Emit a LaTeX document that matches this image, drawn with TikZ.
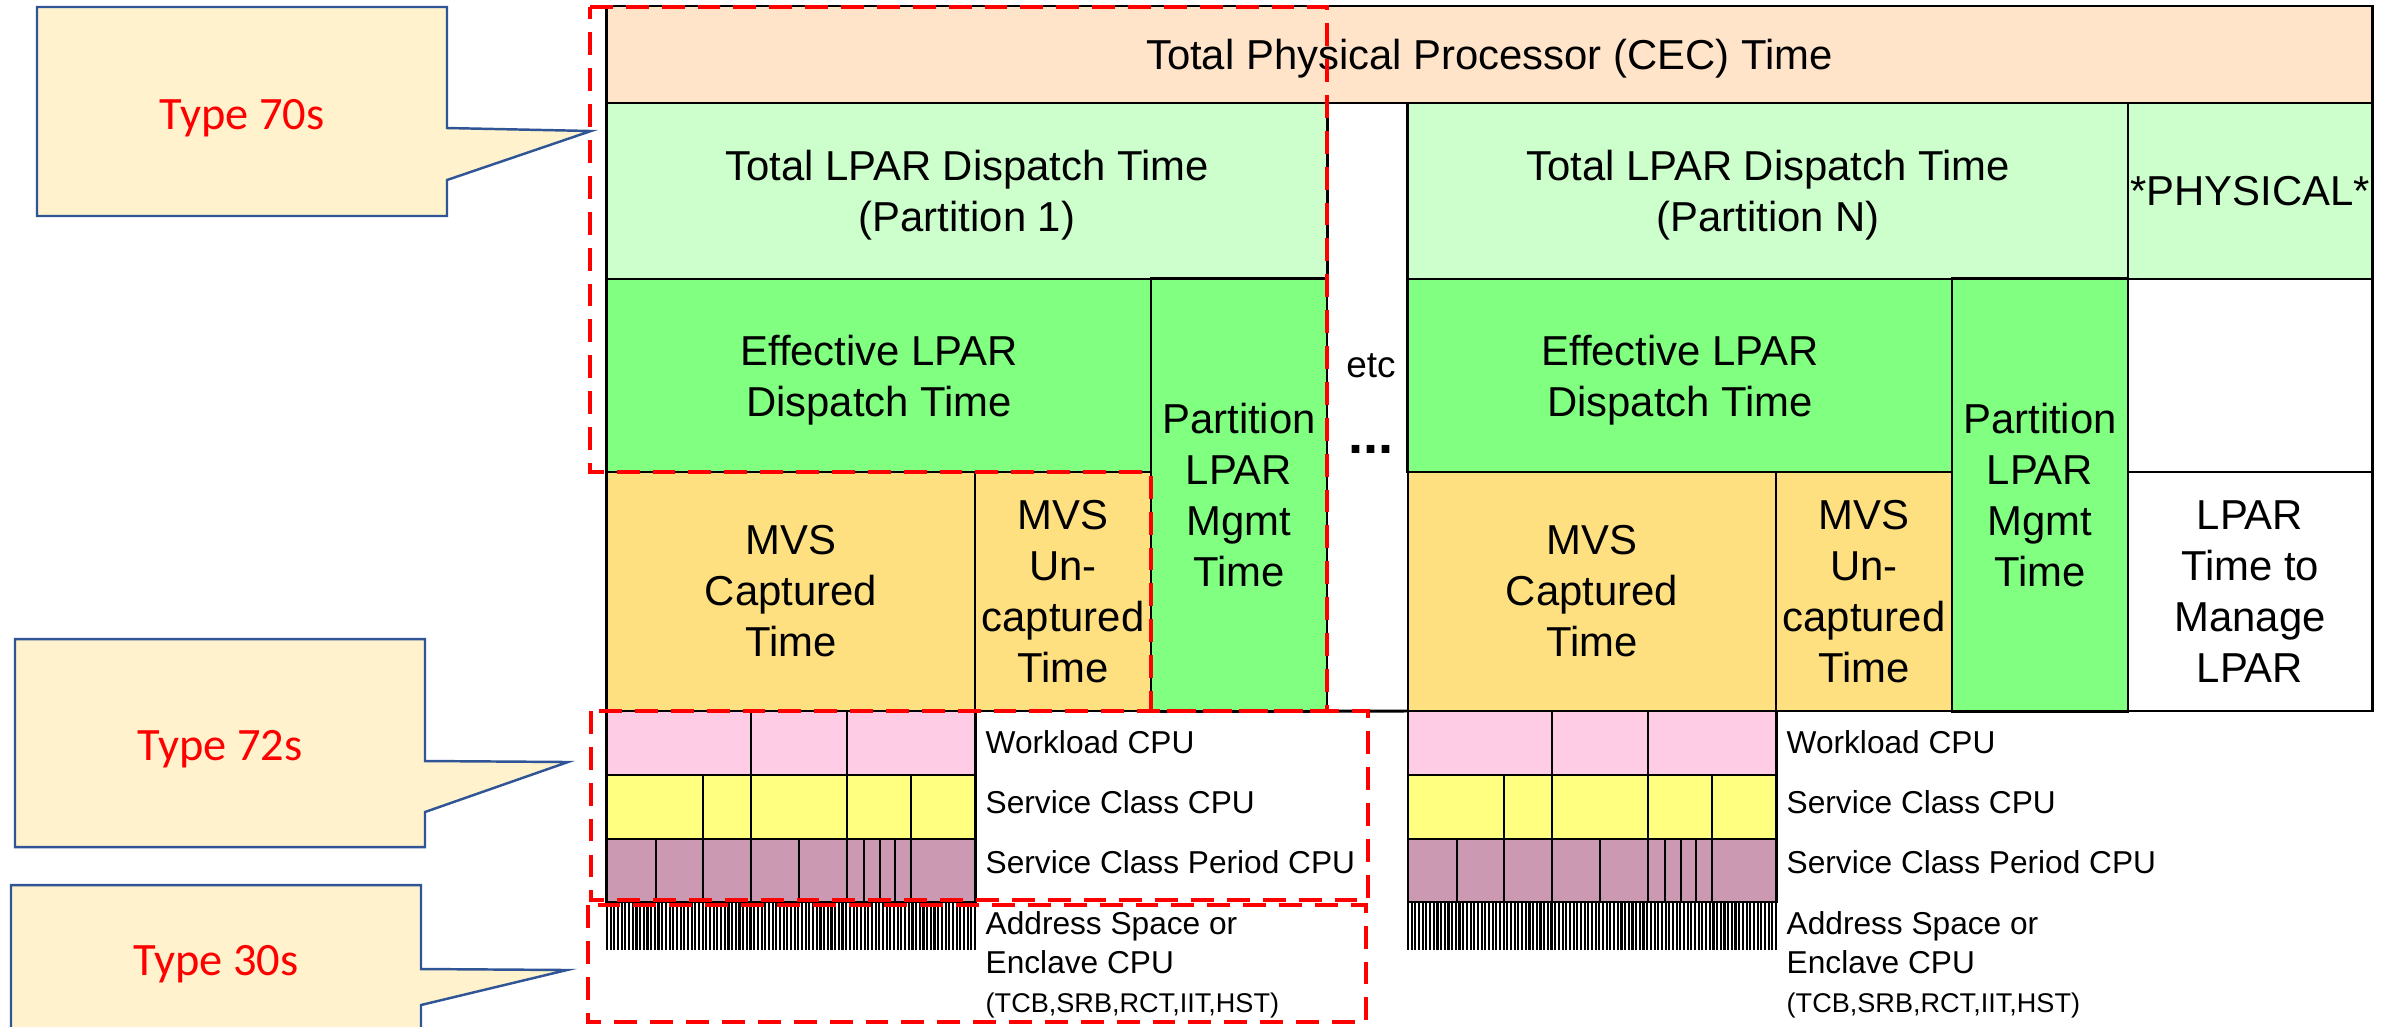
\documentclass[tikz,border=0pt]{standalone}
\usepackage{fontspec}
\setmainfont{Liberation Sans}
\newfontfamily\calibri{Carlito}
\definecolor{cecPeach}{HTML}{FFE4CA}
\definecolor{lparLight}{HTML}{CCFFCC}
\definecolor{effGreen}{HTML}{80FF80}
\definecolor{mvsGold}{HTML}{FFE080}
\definecolor{wlPink}{HTML}{FFCCE6}
\definecolor{scYellow}{HTML}{FFFF80}
\definecolor{scpMauve}{HTML}{CC99B3}
\definecolor{tagFill}{HTML}{FFF2CC}
\definecolor{tagBlue}{HTML}{2F5597}
\definecolor{grpRed}{HTML}{FF0000}

\begin{document}
\begin{tikzpicture}[x=0.01cm,y=-0.01cm,
  rule/.style={draw=black,line width=0.8pt},
  cell/.style={rule,inner sep=0pt,outer sep=0pt,align=center,
               font=\fontsize{11.9}{14.5}\selectfont},
  bar/.style={rule,inner sep=0pt,outer sep=0pt,minimum width=3.68cm},
  hatch/.style={draw=black,line width=0.6pt},
  lbl/.style={anchor=west,inner sep=0pt,font=\fontsize{9}{11}\selectfont},
  grp/.style={draw=grpRed,line width=1.2pt,dash pattern=on 6.5pt off 3.7pt},
  tag/.style={draw=tagBlue,line width=0.7pt,fill=tagFill},
  tagtxt/.style={text=grpRed,inner sep=0pt,font=\calibri\fontsize{13.2}{15}\selectfont}]

\useasboundingbox (0,0) rectangle (2381,1026);

% callouts
\draw[tag] (37,7) -- (447,7) -- (447,128) -- (591,131) -- (447,180) -- (447,216) -- (37,216) -- cycle;
\node[tagtxt] (t70) at (242,118) {Type 70s};
\draw[tag] (15,639) -- (425,639) -- (425,761) -- (568,762) -- (425,812) -- (425,847) -- (15,847) -- cycle;
\node[tagtxt] (t72) at (220,749) {Type 72s};
\draw[tag] (11,885) -- (421,885) -- (421,969) -- (567,970) -- (421,1005) -- (421,1040) -- (11,1040) -- cycle;
\node[tagtxt] (t30) at (216,964) {Type 30s};

% processor time
\node[cell,fill=cecPeach,minimum width=17.65cm,minimum height=0.97cm,text depth=-3.5pt] (cec) at (1489.5,54.5) {Total Physical Processor (CEC) Time};

% partition 1
\node[cell,fill=lparLight,minimum width=7.2cm,minimum height=1.76cm,text depth=-1pt] (tl1) at (967,191) {Total LPAR Dispatch Time\\(Partition 1)};
\node[cell,fill=effGreen,minimum width=5.44cm,minimum height=1.93cm,text depth=-0.6pt] (eff1) at (879,375.5) {Effective LPAR\\Dispatch Time};
\node[cell,fill=effGreen,minimum width=1.76cm,minimum height=4.32cm,text depth=-4pt] (mg1) at (1239,495) {Partition\\LPAR\\Mgmt\\Time};
\node[cell,fill=mvsGold,minimum width=3.68cm,minimum height=2.39cm] (cap1) at (791,591.5) {MVS\\Captured\\Time};
\node[cell,fill=mvsGold,minimum width=1.76cm,minimum height=2.39cm] (unc1) at (1063,591.5) {MVS\\Un-\\captured\\Time};

% partition N
\node[cell,fill=lparLight,minimum width=7.2cm,minimum height=1.76cm,text depth=-1pt] (tlN) at (1768,191) {Total LPAR Dispatch Time\\(Partition N)};
\node[cell,fill=effGreen,minimum width=5.44cm,minimum height=1.93cm,text depth=-0.6pt] (effN) at (1680,375.5) {Effective LPAR\\Dispatch Time};
\node[cell,fill=effGreen,minimum width=1.76cm,minimum height=4.32cm,text depth=-4pt] (mgN) at (2040,495) {Partition\\LPAR\\Mgmt\\Time};
\node[cell,fill=mvsGold,minimum width=3.68cm,minimum height=2.39cm] (capN) at (1592,591.5) {MVS\\Captured\\Time};
\node[cell,fill=mvsGold,minimum width=1.76cm,minimum height=2.39cm] (uncN) at (1864,591.5) {MVS\\Un-\\captured\\Time};

% *PHYSICAL*
\node[cell,fill=lparLight,minimum width=2.44cm,minimum height=1.76cm] (phys) at (2250,191) {*PHYSICAL*};
\node[cell,fill=white,minimum width=2.44cm,minimum height=1.93cm] (physmid) at (2250,375.5) {};
\node[cell,fill=white,minimum width=2.44cm,minimum height=2.39cm] (physmgr) at (2250,591.5) {LPAR\\Time to\\Manage\\LPAR};

\draw[rule] (mg1.south east) -- (capN.south west);
\node[font=\fontsize{10.5}{12}\selectfont] (etc) at (1371,366) {etc};
\node[anchor=base,inner sep=0pt,font=\bfseries\fontsize{15.4}{16}\selectfont] (dots) at (1371,453) {...};

% workload / service class bars
\node[bar,fill=wlPink,minimum height=0.64cm] (wl1) at (791,743) {};
\node[bar,fill=scYellow,minimum height=0.64cm] (sc1) at (791,807) {};
\node[bar,fill=scpMauve,minimum height=0.63cm] (scp1) at (791,870.5) {};
\node[bar,fill=wlPink,minimum height=0.64cm] (wlN) at (1592,743) {};
\node[bar,fill=scYellow,minimum height=0.64cm] (scN) at (1592,807) {};
\node[bar,fill=scpMauve,minimum height=0.63cm] (scpN) at (1592,870.5) {};

\foreach \o in {0,801} {
  \foreach \d in {751,847} \draw[rule] ({\d+\o},711) -- ++(0,64);
  \foreach \d in {703,751,847,911} \draw[rule] ({\d+\o},775) -- ++(0,64);
  \foreach \d in {656,703,751,799,847,864,880,895,911} \draw[rule] ({\d+\o},839) -- ++(0,63);
  \foreach \i in {0,...,100} \draw[hatch] ({607+\o+\i*3.68},902) -- ++(0,48);
}

\node[lbl] (lwl1) at (985,742) {Workload CPU};
\node[lbl] (lsc1) at (985,802) {Service Class CPU};
\node[lbl] (lscp1) at (985,862) {Service Class Period CPU};
\node[lbl,anchor=north west,align=left] (las1) at (985,911) {Address Space or\\Enclave CPU\\{\fontsize{7.7}{9}\selectfont (TCB,SRB,RCT,IIT,HST)}};
\node[lbl] (lwlN) at (1786,742) {Workload CPU};
\node[lbl] (lscN) at (1786,802) {Service Class CPU};
\node[lbl] (lscpN) at (1786,862) {Service Class Period CPU};
\node[lbl,anchor=north west,align=left] (lasN) at (1786,911) {Address Space or\\Enclave CPU\\{\fontsize{7.7}{9}\selectfont (TCB,SRB,RCT,IIT,HST)}};

% SMF record coverage
\draw[grp] (590,7) -- (1327,7) -- (1327,711) -- (1151,711) -- (1151,472) -- (590,472) -- cycle;
\draw[grp] (591,711) rectangle (1368,900);
\draw[grp] (588,905) rectangle (1366,1022);
\end{tikzpicture}
\end{document}
